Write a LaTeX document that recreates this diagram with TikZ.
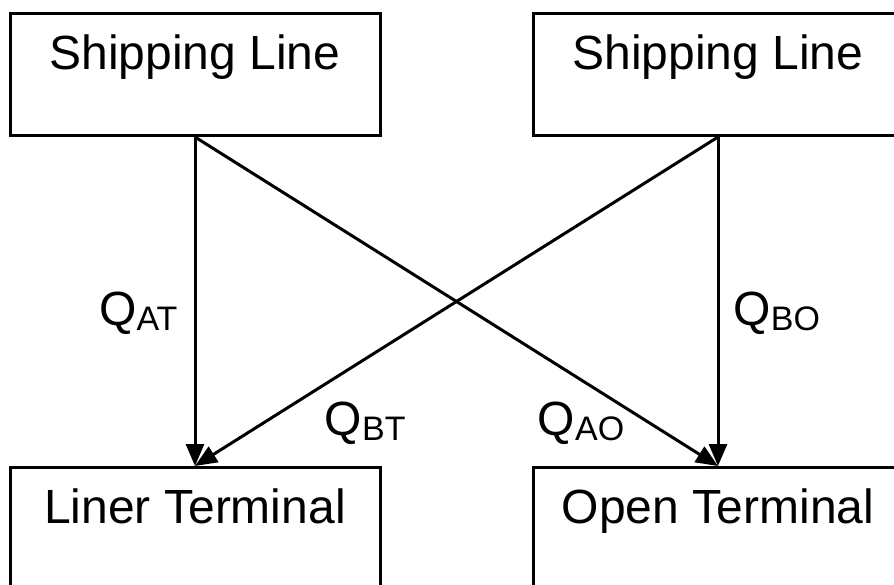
\documentclass[tikz,border=0pt]{standalone}
\usepackage{fontspec}
\setmainfont{Liberation Sans}
\usetikzlibrary{arrows.meta,positioning}

% quantity label with a lowered subscript
\newcommand{\flowq}[1]{Q\raisebox{-2.5pt}{\fontsize{17}{17}\selectfont #1}}

\begin{document}
\begin{tikzpicture}[x=0.5pt,y=-0.5pt,>={Triangle[length=11pt,width=9pt]}]
  \tikzstyle{party}=[draw,line width=1.5pt,minimum width=185pt,inner sep=0pt,text height=28pt,text depth=33pt,font=\fontsize{24}{28}\selectfont]
  \tikzstyle{flow}=[->,line width=1.5pt]
  \tikzstyle{qty}=[inner sep=0pt,font=\fontsize{24}{28}\selectfont]
  \useasboundingbox (0,0) rectangle (894,584);
  \node[party,anchor=north] (lineA) at (195,12) {Shipping Line};
  \node[party,right=75pt of lineA] (lineB) {Shipping Line};
  \node[party,below=164.5pt of lineA] (liner) {Liner Terminal};
  \node[party,below=164.5pt of lineB] (open) {Open Terminal};
  \draw[flow] (lineA.south) -- node[qty,pos=0.53,anchor=east,xshift=-8pt,yshift=-1pt] {\flowq{AT}} (liner.north);
  \draw[flow] (lineA.south) -- node[qty,pos=0.9,anchor=east,xshift=-20pt,yshift=5pt] {\flowq{AO}} (open.north);
  \draw[flow] (lineB.south) -- node[qty,pos=0.53,anchor=west,xshift=7pt,yshift=-1pt] {\flowq{BO}} (open.north);
  \draw[flow] (lineB.south) -- node[qty,pos=0.9,anchor=west,xshift=38pt,yshift=5pt] {\flowq{BT}} (liner.north);
\end{tikzpicture}
\end{document}
